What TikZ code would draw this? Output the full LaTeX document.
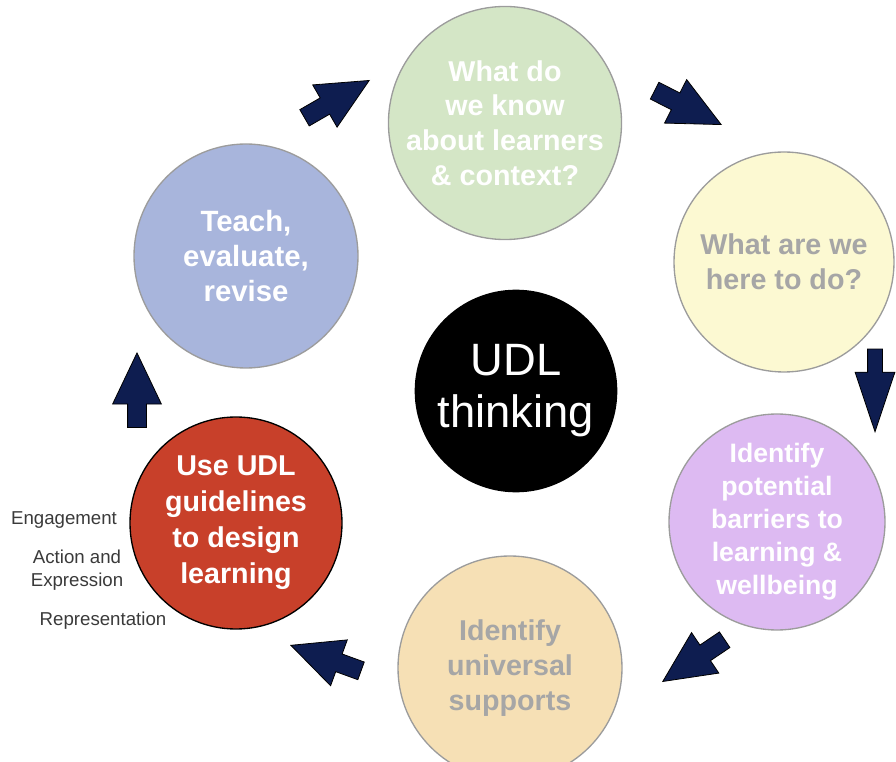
\documentclass[tikz,border=0pt]{standalone}
\usepackage{fontspec}
\setmainfont{Liberation Sans}
\usetikzlibrary{shapes.arrows}

\definecolor{knowgreen}{HTML}{D4E6C6}
\definecolor{aimyellow}{HTML}{FCF9D2}
\definecolor{barrierlilac}{HTML}{DDBAF2}
\definecolor{supportpeach}{HTML}{F6E0B5}
\definecolor{designred}{HTML}{C8402A}
\definecolor{teachblue}{HTML}{A8B5DC}
\definecolor{rimgray}{HTML}{9C9C9C}
\definecolor{softgray}{HTML}{A6A6A6}
\definecolor{labelgray}{HTML}{3A3A3A}
\definecolor{navy}{HTML}{0E1D50}

\tikzset{
	stage/.style={circle, draw=rimgray, line width=1pt, minimum size=#1, inner sep=0pt,
		align=center, font=\fontsize{21.5}{26}\selectfont\bfseries},
	turn/.style={single arrow, draw=black, fill=navy, line width=0.6pt, inner sep=6.75pt,
		single arrow head extend=11.25pt, single arrow tip angle=51, minimum height=56pt, anchor=tip},
	guide/.style={text=labelgray, font=\fontsize{14}{17}\selectfont, align=center}
}

\begin{document}
\begin{tikzpicture}[x=0.75pt, y=-0.75pt]

	\clip (0,0) rectangle (896,762);

	% the cycle
	\node[stage=168pt, fill=knowgreen, text=white] (know) at (505,123) {What do\\we know\\about learners\\\& context?};
	\node[stage=165pt, fill=aimyellow, text=softgray] (aim) at (784,262) {What are we\\here to do?};
	\node[stage=162pt, fill=barrierlilac, text=white, font=\fontsize{20}{24.75}\selectfont\bfseries] (barriers) at (777,522) {Identify\\potential\\barriers to\\learning \&\\wellbeing};
	\node[stage=168pt, fill=supportpeach, text=softgray] (supports) at (510,668) {Identify\\universal\\supports};
	\node[stage=159pt, fill=designred, draw=black, text=white, font=\fontsize{21.5}{27}\selectfont\bfseries] (design) at (236,523) {Use UDL\\guidelines\\to design\\learning};
	\node[stage=168pt, fill=teachblue, text=white, font=\fontsize{22}{26}\selectfont\bfseries] (teach) at (246,256) {Teach,\\evaluate,\\revise};

	\node[stage=151pt, fill=black, draw=black, text=white, font=\fontsize{34}{39}\selectfont] (udl) at (516,391) {UDL\\thinking};

	% arrows
	\node[turn, rotate=30] (a1) at (370,80) {};
	\node[turn, rotate=-27] (a2) at (722,125) {};
	\node[turn, rotate=-90, inner sep=5.25pt, single arrow head extend=9.4pt, single arrow tip angle=37, minimum height=62pt] (a3) at (875,433) {};
	\node[turn, rotate=214] (a4) at (662,682) {};
	\node[turn, rotate=160] (a5) at (290,645) {};
	\node[turn, rotate=90] (a6) at (137,352) {};

	% the three principles
	\node[guide] (engage) at (64,520) {Engagement};
	\node[guide] (action) at (77,570) {Action and\\Expression};
	\node[guide] (repres) at (103,621) {Representation};

\end{tikzpicture}
\end{document}
